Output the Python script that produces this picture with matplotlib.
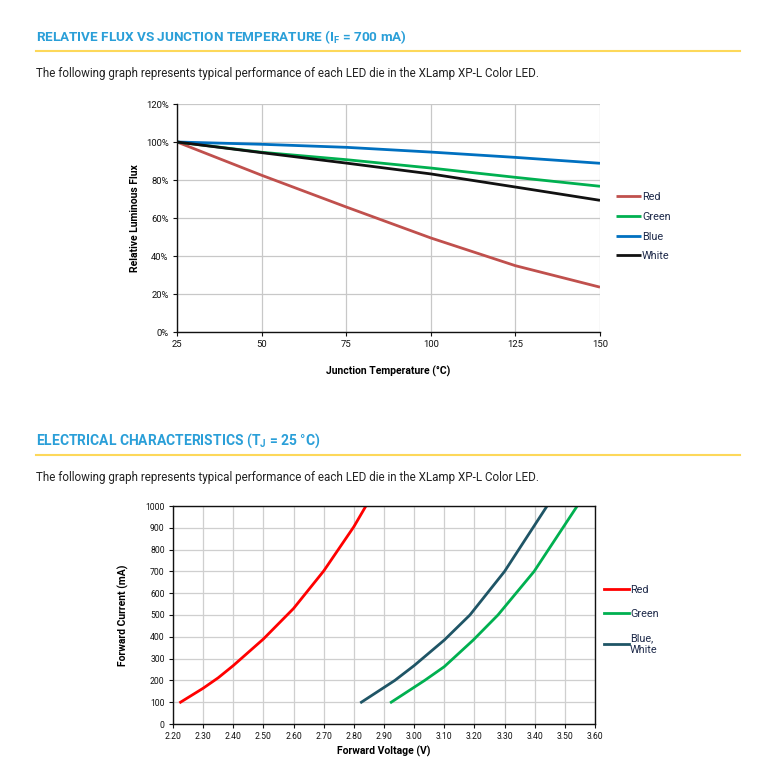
import matplotlib
matplotlib.use("Agg")
import matplotlib.pyplot as plt
from matplotlib.lines import Line2D

plt.rcParams['font.family'] = ['Roboto', 'DejaVu Sans']

# ---------------- data ----------------
temp = [25, 50, 75, 100, 125, 150]
flux_red = [100, 82.5, 65.8, 49.5, 34.9, 23.6]
flux_green = [100, 94.6, 90.7, 86.3, 81.4, 76.7]
flux_blue = [100, 98.8, 97.2, 94.7, 91.9, 88.8]
flux_white = [100, 94.4, 88.9, 83.2, 76.3, 69.3]
flux_labels = ["Red", "Green", "Blue", "White"]
flux_yticks = [0, 20, 40, 60, 80, 100, 120]

v_red = [2.225, 2.30, 2.35, 2.40, 2.50, 2.60, 2.70, 2.80, 2.84]
i_red = [100, 164, 212, 268, 390, 530, 702, 905, 1000]
v_green = [2.924, 3.035, 3.10, 3.196, 3.278, 3.398, 3.541]
i_green = [100, 200, 263, 385, 500, 700, 1000]
v_bw = [2.825, 2.936, 3.00, 3.10, 3.185, 3.30, 3.441]
i_bw = [100, 200, 268, 385, 500, 700, 1000]
iv_labels = ["Red", "Green", "Blue,\nWhite"]
v_ticks = [2.20, 2.30, 2.40, 2.50, 2.60, 2.70, 2.80, 2.90, 3.00, 3.10, 3.20, 3.30, 3.40, 3.50, 3.60]
i_ticks = list(range(0, 1001, 100))

W, H = 781, 765
fig = plt.figure(figsize=(W / 100, H / 100), dpi=100)

def fx(px):
    return px / W

def fy(py):
    return 1 - py / H

HEAD = '#2a9fd8'
YEL = '#fdd85a'
TXT = '#222222'
LEG = '#1e2a4a'

# ---------------- headers ----------------
fig.text(fx(36), fy(37), r"RELATIVE FLUX VS JUNCTION TEMPERATURE (I$_\mathregular{F}$ = 700 mA)",
         color=HEAD, fontsize=9.7, fontweight='bold', va='center', ha='left')
fig.add_artist(Line2D([fx(36), fx(740)], [fy(51), fy(51)], color=YEL, lw=1.5))
fig.text(fx(36), fy(74), "The following graph represents typical performance of each LED die in the XLamp XP-L Color LED.",
         color=TXT, fontsize=8.4, va='center', ha='left')

fig.text(fx(36), fy(441), r"ELECTRICAL CHARACTERISTICS (T$_\mathregular{J}$ = 25 °C)",
         color=HEAD, fontsize=10, fontweight='bold', va='center', ha='left')
fig.add_artist(Line2D([fx(36), fx(740)], [fy(455), fy(455)], color=YEL, lw=1.5))
fig.text(fx(36), fy(478), "The following graph represents typical performance of each LED die in the XLamp XP-L Color LED.",
         color=TXT, fontsize=8.4, va='center', ha='left')

# ---------------- chart 1 ----------------
ax1 = fig.add_axes([fx(177), fy(332), fx(600 - 177), (332 - 104) / H])
cols1 = ['#c0504d', '#00b050', '#0070c0', '#111111']
for ys, c, lab in zip([flux_red, flux_green, flux_blue, flux_white], cols1, flux_labels):
    ax1.plot(temp, ys, color=c, lw=2, label=lab, solid_capstyle='butt')
ax1.set_xlim(25, 150)
ax1.set_ylim(0, 120)
ax1.set_xticks(temp)
ax1.set_yticks(flux_yticks)
ax1.set_yticklabels([f"{v}%" for v in flux_yticks])
ax1.grid(True, color='#c8c8c8', lw=0.9)
ax1.set_axisbelow(True)
for s in ['top', 'right']:
    ax1.spines[s].set_visible(False)
for s in ['left', 'bottom']:
    ax1.spines[s].set_color('#111111')
    ax1.spines[s].set_linewidth(1.0)
ax1.tick_params(labelsize=6.8, length=3, width=0.8, colors='#111111', pad=3)
ax1.set_xlabel("Junction Temperature (°C)", fontsize=7.5, fontweight='bold', labelpad=12)
ax1.set_ylabel("Relative Luminous Flux", fontsize=7.5, fontweight='bold', labelpad=4)
ax1.legend(loc='upper left', bbox_to_anchor=(fx(616), fy(192)), bbox_transform=fig.transFigure,
           frameon=False, fontsize=7.8, handlelength=2.3, handletextpad=0.1,
           borderpad=0, borderaxespad=0, labelspacing=0.9, labelcolor=LEG)

# ---------------- chart 2 ----------------
ax2 = fig.add_axes([fx(173), fy(724), fx(595 - 173), (724 - 506) / H])
cols2 = ['#ff0000', '#00b050', '#1f5566']
for xs, ys, c, lab in zip([v_red, v_green, v_bw], [i_red, i_green, i_bw], cols2, iv_labels):
    ax2.plot(xs, ys, color=c, lw=2, label=lab)
ax2.set_xlim(2.20, 3.60)
ax2.set_ylim(0, 1000)
ax2.set_xticks(v_ticks)
ax2.set_xticklabels([f"{v:.2f}" for v in v_ticks])
ax2.set_yticks(i_ticks)
ax2.grid(True, color='#cfcfcf', lw=0.9)
ax2.set_axisbelow(True)
for s in ax2.spines.values():
    s.set_color('#111111')
    s.set_linewidth(1.0)
ax2.tick_params(labelsize=6.2, length=3, width=0.8, colors='#111111', pad=3)
ax2.set_xlabel("Forward Voltage (V)", fontsize=7.5, fontweight='bold', labelpad=3)
ax2.set_ylabel("Forward Current (mA)", fontsize=7.5, fontweight='bold', labelpad=12)
ax2.legend(loc='upper left', bbox_to_anchor=(fx(604), fy(585)), bbox_transform=fig.transFigure,
           frameon=False, fontsize=7.8, handlelength=2.3, handletextpad=0.1,
           borderpad=0, borderaxespad=0, labelspacing=1.3, labelcolor=LEG)

fig.savefig("out.png", dpi=100)
